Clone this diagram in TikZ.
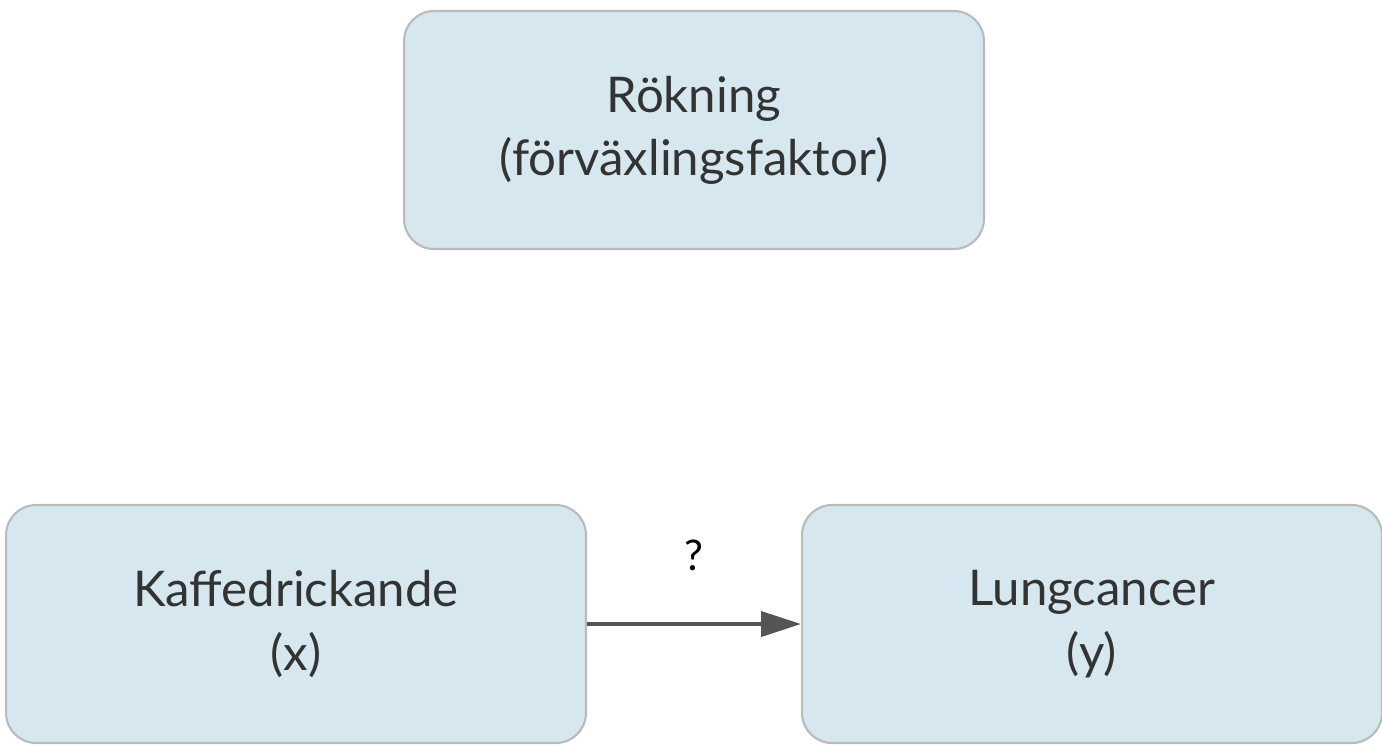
\documentclass[tikz,border=0pt]{standalone}
\usepackage{fontspec}
\setmainfont{Lato}
\usetikzlibrary{arrows.meta}
\definecolor{boxfill}{HTML}{D6E7F0}
\definecolor{boxline}{HTML}{BBBBBB}
\definecolor{arrowgray}{HTML}{555555}
\definecolor{textgray}{HTML}{333333}
\begin{document}
\begin{tikzpicture}
	[x=0.02cm, y=-0.02cm,
	factor/.style={rectangle,rounded corners=0.6cm,draw=boxline,fill=boxfill,line width=1.2pt,
		minimum width=11.6cm,minimum height=4.76cm,align=center,text=textgray,
		font=\fontsize{28}{36}\selectfont},
	link/.style={-{Triangle[length=0.8cm,width=0.5cm]},draw=arrowgray,line width=2.2pt}]
	\useasboundingbox (0,0) rectangle (1382,752);
	\node (smoking) at (694, 130) [factor] {Rökning\\(förväxlingsfaktor)};
	\node (coffee) at (296, 624) [factor] {Kaffedrickande\\(x)};
	\node (cancer) at (1092, 624) [factor] {Lungcancer\\(y)};
	\draw [link] (coffee) to node [above=0.9cm, text=black, font=\fontsize{24}{28}\selectfont] (q) {?} (cancer);
\end{tikzpicture}
\end{document}
